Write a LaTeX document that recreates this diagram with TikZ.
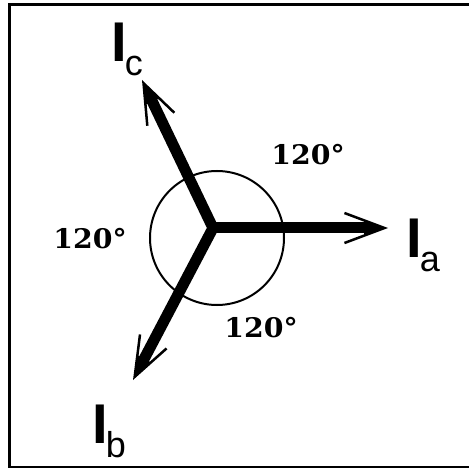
\documentclass[tikz,border=0pt]{standalone}
\usepackage{fontspec}
\usepackage{tikz}
\usetikzlibrary{arrows.meta}
\newfontfamily\labelfont{Liberation Sans}
\newfontfamily\anglefont[FakeStretch=1.05]{DejaVu Serif}
\newcommand\phase[1]{{\bfseries I}\kern-2pt\raisebox{-14pt}{\fontsize{36}{36}\selectfont #1}}

\begin{document}
\begin{tikzpicture}[x=1pt,y=-1pt,
  shaft/.style={line width=11pt,-{Triangle[length=24pt,width=11pt]}},
  barbs/.style={line width=2.5pt,-{Straight Barb[length=40pt,width=30pt]}},
  angle/.style={font=\anglefont\bfseries\fontsize{27}{27}\selectfont,anchor=base,inner sep=0pt},
  current/.style={font=\labelfont\fontsize{56}{56}\selectfont,anchor=base west,inner sep=0pt}]
  \clip (0,0) rectangle (469,468);
  \fill[white] (0,0) rectangle (469,468);
  \draw[line width=3pt] (480,5) -| (9,467) -- (480,467);
  \coordinate (O) at (213,228);
  \coordinate (A) at (388,228);
  \coordinate (B) at (133,380);
  \coordinate (C) at (142,80);
  \draw[line width=2pt] (217,238) circle (67);
  \foreach \tip in {A,B,C} \draw[barbs] (O) -- (\tip);
  \draw[shaft,line cap=round] (O) -- (A);
  \draw[shaft,{Triangle[length=24pt,width=11pt]}-{Triangle[length=24pt,width=11pt]}] (C) -- (O) -- (B);
  \node[current] (la) at (406,258) {\phase{a}};
  \node[current] (lb) at (92,443) {\phase{b}};
  \node[current] (lc) at (111,62) {\phase{c}};
  \node[angle] (ac) at (308,165) {120\textdegree};
  \node[angle] (bc) at (90,248) {120\textdegree};
  \node[angle] (ab) at (261,337) {120\textdegree};
\end{tikzpicture}
\end{document}
